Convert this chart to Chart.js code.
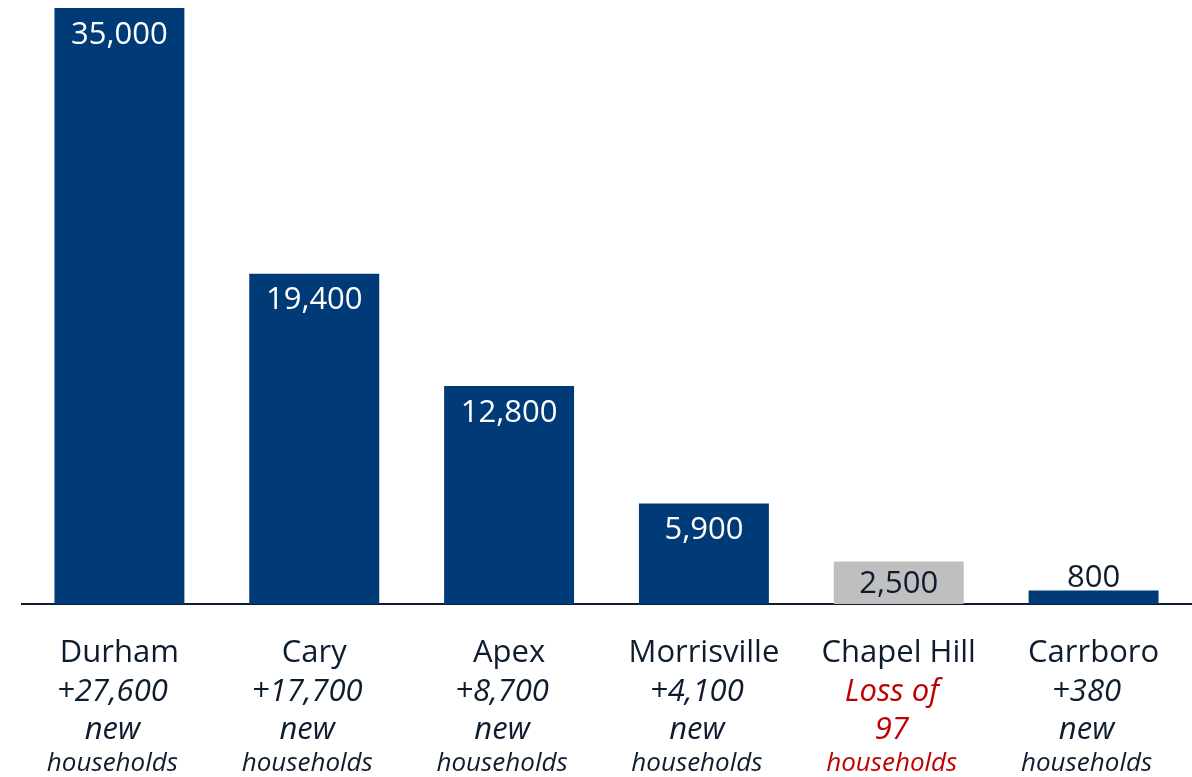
<!DOCTYPE html>
<html>
<head>
<meta charset="utf-8">
<script src="https://cdn.jsdelivr.net/npm/chart.js@4"></script>
<style>
  html, body { margin: 0; padding: 0; background: #fff; }
  #wrap { width: 1192px; height: 777px; }
</style>
</head>
<body>
<div id="wrap"><canvas id="growthChart"></canvas></div>
<script>
// data
const cities = ['Durham', 'Cary', 'Apex', 'Morrisville', 'Chapel Hill', 'Carrboro'];
const households = [35000, 19400, 12800, 5900, 2500, 800];
const changeText = ['+27,600', '+17,700', '+8,700', '+4,100', 'Loss of', '+380'];
const changeText2 = ['new', 'new', 'new', 'new', '97', 'new'];
const changeText3 = ['households', 'households', 'households', 'households', 'households', 'households'];
const isLoss = [false, false, false, false, true, false];

const navy = '#003b78';
const textDark = '#0e1c2f';
const lossRed = '#c00000';
const font = '"Open Sans", sans-serif';

// value labels on top of the bars
const valueLabels = {
    id: 'valueLabels',
    afterDatasetsDraw(chart) {
        const ctx = chart.ctx;
        const meta = chart.getDatasetMeta(0);
        ctx.save();
        ctx.font = '31px ' + font;
        ctx.textAlign = 'center';
        ctx.textBaseline = 'middle';
        meta.data.forEach((bar, i) => {
            const h = bar.base - bar.y;
            const txt = households[i].toLocaleString('en-US');
            if (h > 30) {
                ctx.fillStyle = isLoss[i] ? textDark : '#ffffff';
                ctx.fillText(txt, bar.x, bar.y + Math.min(27, h / 2 + 1));
            } else {
                ctx.fillStyle = textDark;
                ctx.fillText(txt, bar.x, bar.y - 12);
            }
        });
        ctx.restore();
    }
};

// multi-line category labels under the axis
const categoryLabels = {
    id: 'categoryLabels',
    afterDraw(chart) {
        const ctx = chart.ctx;
        const xs = chart.scales.x;
        ctx.save();
        ctx.textAlign = 'center';
        ctx.textBaseline = 'middle';
        cities.forEach((c, i) => {
            const x = xs.getPixelForValue(i);
            ctx.fillStyle = textDark;
            ctx.font = '31px ' + font;
            ctx.fillText(c, x, 653);
            // the italic lines sit a little left of the bar centre
            const xi = x - 7;
            ctx.fillStyle = isLoss[i] ? lossRed : textDark;
            ctx.font = 'italic 31px ' + font;
            ctx.fillText(changeText[i], xi, 692);
            ctx.fillText(changeText2[i], xi, 730);
            ctx.font = 'italic 26px ' + font;
            ctx.fillText(changeText3[i], xi, 764);
        });
        ctx.restore();
    }
};

const growthChart = new Chart(document.getElementById('growthChart').getContext('2d'), {
    type: 'bar',
    data: {
        labels: cities,
        datasets: [{
            data: households,
            backgroundColor: isLoss.map(l => l ? '#bfbfbf' : navy),
            borderWidth: 0,
            barPercentage: 0.667,
            categoryPercentage: 1.0,
        }]
    },
    options: {
        responsive: true,
        maintainAspectRatio: false,
        animation: false,
        layout: { padding: { top: 8, left: 22, right: 1, bottom: 165 } },
        scales: {
            x: {
                grid: { display: false },
                border: { display: true, color: textDark, width: 2 },
                ticks: { display: false }
            },
            y: {
                min: 0,
                max: 35000,
                display: false
            }
        },
        plugins: {
            legend: { display: false },
            tooltip: { enabled: false }
        }
    },
    plugins: [valueLabels, categoryLabels]
});
</script>
</body>
</html>
